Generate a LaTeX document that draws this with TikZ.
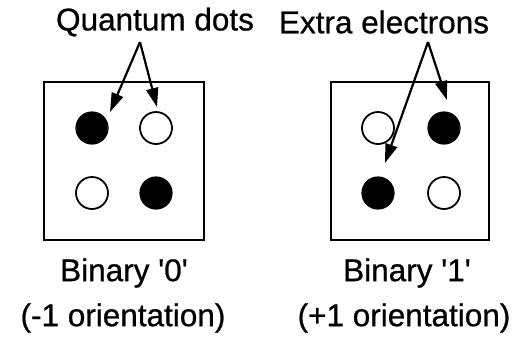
\documentclass[tikz,border=0pt]{standalone}
\usepackage{fontspec}
\setmainfont{Liberation Sans}[FakeBold=0.7]
\usetikzlibrary{arrows.meta}
\begin{document}
\begin{tikzpicture}[x=1pt,y=-1pt,
  cell/.style={draw=black,line width=2pt},
  full/.style={circle,draw=black,fill=black,line width=1.2pt,minimum size=32pt,inner sep=0pt},
  empty/.style={circle,draw=black,fill=white,line width=1.8pt,minimum size=32pt,inner sep=0pt},
  label/.style={font=\fontsize{31.5}{34}\selectfont,inner sep=0pt,text=black},
  pointer/.style={line width=2.2pt,-{Triangle[length=19pt,width=12pt]}}]
\useasboundingbox (0,0) rectangle (530,338);
% cells
\draw[cell] (44,82) rectangle (204,240);
\draw[cell] (331,82) rectangle (489,240);
% left cell: binary 0
\node[full]  (a1) at (92,128) {};
\node[empty] (a2) at (156,128) {};
\node[empty] (a3) at (92,193) {};
\node[full]  (a4) at (156,193) {};
% right cell: binary 1
\node[empty] (b1) at (378,128) {};
\node[full]  (b2) at (444,128) {};
\node[full]  (b3) at (378,193) {};
\node[empty] (b4) at (444,193) {};
% captions
\node[label] (qd) at (155,22) {Quantum dots};
\node[label] (ee) at (384,22) {Extra electrons};
\node[label] (l0) at (124,273) {Binary \textquotesingle 0\textquotesingle};
\node[label] (o0) at (123,318) {(-1 orientation)};
\node[label] (l1) at (407,273) {Binary \textquotesingle 1\textquotesingle};
\node[label] (o1) at (404,318) {(+1 orientation)};
% pointers
\coordinate (qa) at (140,42);
\coordinate (ea) at (428,42);
\draw[pointer] (qa) -- (110,112);
\draw[pointer] (qa) -- (157,107);
\draw[pointer] (ea) -- (385,163);
\draw[pointer] (ea) -- (447,100);
\end{tikzpicture}
\end{document}
